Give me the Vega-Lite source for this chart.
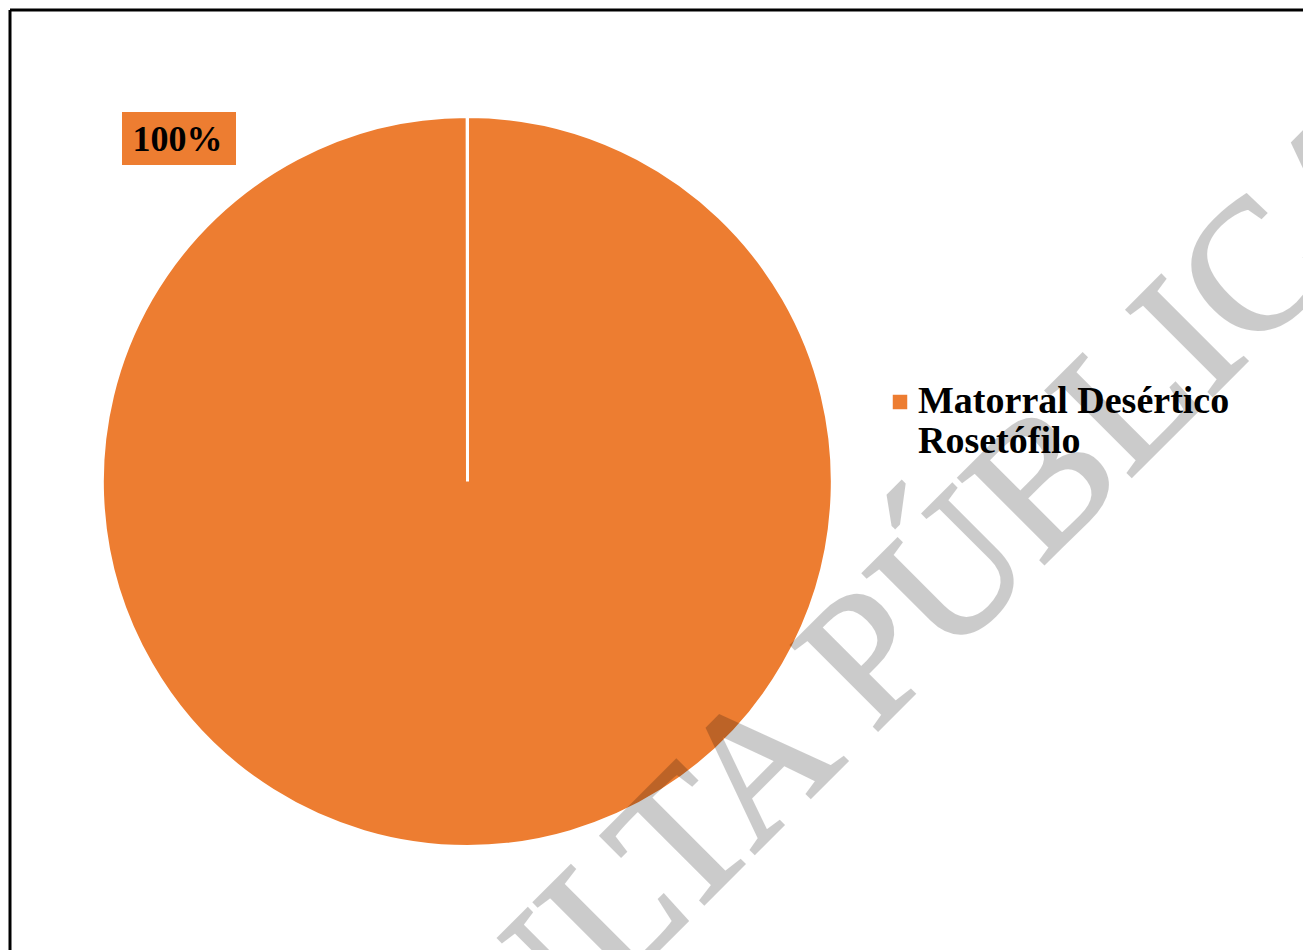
{
  "$schema": "https://vega.github.io/schema/vega-lite/v6.json",
  "width": 1293,
  "height": 940,
  "autosize": {"type": "none"},
  "padding": {"left": 10, "top": 10, "right": 0, "bottom": 0},
  "background": "white",
  "config": {"view": {"stroke": null}},
  "datasets": {
    "cobertura": [
      {"tipo": "Matorral Desértico Rosetófilo", "porcentaje": 1}
    ],
    "marca_agua": [
      {"texto": "CONSULTA PÚBLICA"}
    ]
  },
  "layer": [
    {
      "data": {"name": "cobertura"},
      "mark": {"type": "arc", "outerRadius": 365, "x": 457.5, "y": 471.5, "stroke": "white", "strokeWidth": 3},
      "encoding": {
        "theta": {"field": "porcentaje", "type": "quantitative", "stack": true, "scale": {"range": [0, 6.2822]}},
        "color": {
          "field": "tipo",
          "type": "nominal",
          "scale": {"domain": ["Matorral Desértico Rosetófilo"], "range": ["#ED7D31"]},
          "legend": {
            "orient": "none",
            "legendX": 871,
            "legendY": 373,
            "title": null,
            "padding": 0,
            "symbolType": "square",
            "symbolSize": 210,
            "symbolStrokeWidth": 0,
            "symbolOpacity": 1,
            "labelFont": "Liberation Serif",
            "labelFontWeight": "bold",
            "labelFontSize": 38,
            "labelColor": "black",
            "labelLimit": 600,
            "labelOffset": -1,
            "labelBaseline": "middle",
            "labelExpr": "[slice(datum.label, 0, 18), slice(datum.label, 19)]",
            "encode": {"labels": {"update": {"lineHeight": {"value": 45}}}}
          }
        }
      }
    },
    {
      "data": {"name": "cobertura"},
      "mark": {"type": "rect"},
      "encoding": {
        "x": {"value": 112},
        "x2": {"value": 226},
        "y": {"value": 102},
        "y2": {"value": 155},
        "color": {"field": "tipo", "type": "nominal", "legend": null}
      }
    },
    {
      "data": {"name": "cobertura"},
      "mark": {"type": "text", "x": 167.5, "y": 141, "align": "center", "baseline": "alphabetic", "font": "Liberation Serif", "fontWeight": "bold", "fontSize": 36, "color": "black"},
      "encoding": {
        "text": {"field": "porcentaje", "type": "quantitative", "format": ".0%"}
      }
    },
    {
      "data": {"name": "marca_agua"},
      "mark": {"type": "text", "x": 793, "y": 795, "angle": 315, "align": "center", "baseline": "alphabetic", "font": "Liberation Serif", "fontSize": 185, "color": "black", "stroke": "black", "strokeWidth": 3, "opacity": 0.2},
      "encoding": {
        "text": {"field": "texto", "type": "nominal"}
      }
    },
    {
      "data": {"values": [{}]},
      "mark": {"type": "rule", "color": "black", "strokeWidth": 3},
      "encoding": {"x": {"value": 0}}
    },
    {
      "data": {"values": [{}]},
      "mark": {"type": "rule", "color": "black", "strokeWidth": 3},
      "encoding": {"y": {"value": 0}}
    }
  ]
}
